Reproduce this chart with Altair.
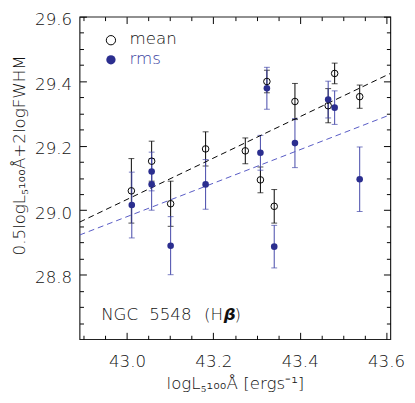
import altair as alt
import pandas as pd

# ---- data ----
mean_x = [43.010, 43.057, 43.101, 43.182, 43.274, 43.309, 43.324, 43.341, 43.389, 43.466, 43.481, 43.539]
mean_y = [29.060, 29.152, 29.020, 29.190, 29.184, 29.094, 29.399, 29.012, 29.337, 29.324, 29.424, 29.352]
mean_err = [0.100, 0.062, 0.070, 0.053, 0.040, 0.040, 0.035, 0.052, 0.056, 0.053, 0.032, 0.036]

rms_x = [43.011, 43.057, 43.057, 43.101, 43.182, 43.309, 43.324, 43.341, 43.389, 43.466, 43.481, 43.539]
rms_y = [29.016, 29.120, 29.080, 28.890, 29.080, 29.178, 29.378, 28.887, 29.208, 29.343, 29.318, 29.096]
rms_err = [0.102, 0.060, 0.080, 0.090, 0.077, 0.054, 0.065, 0.066, 0.076, 0.057, 0.052, 0.100]

fit_x = [42.89, 43.61]
mean_fit = [28.963, 29.424]
rms_fit = [28.923, 29.296]

x_major = [43.0, 43.2, 43.4, 43.6]
x_minor = [42.9, 42.95, 43.05, 43.1, 43.15, 43.25, 43.3, 43.35, 43.45, 43.5, 43.55]
y_major = [28.8, 29.0, 29.2, 29.4, 29.6]
y_minor = [28.65, 28.7, 28.75, 28.85, 28.9, 28.95, 29.05, 29.1, 29.15,
           29.25, 29.3, 29.35, 29.45, 29.5, 29.55]

FONT = "DejaVu Sans"
FW = 200
TXT = "#111111"
BLUE = "#2B2E8F"
BLUE_TXT = "#3A3E9E"
BLUE_BAR = "#4246A8"
BLUE_LINE = "#5558C4"
FS = 17

W, H = 317, 329

xscale = alt.Scale(domain=[42.89, 43.61], nice=False, zero=False)
yscale = alt.Scale(domain=[28.6, 29.6], nice=False, zero=False)


def ax(orient, values, size, labels=False, title=None, pad=0, tpad=0, extra=None):
    kw = dict(orient=orient, values=values, tickSize=size, offset=-size,
              domain=False, grid=False, labels=labels, ticks=True,
              tickColor="black", tickWidth=1)
    if labels:
        kw.update(labelFont=FONT, labelFontSize=FS, labelColor=TXT,
                  labelFontWeight=FW,
                  labelPadding=pad, format=".1f", labelFlush=False,
                  labelOverlap=False)
    if title:
        kw.update(title=title, titleFont=FONT, titleFontSize=FS,
                  titleFontWeight=FW, titleColor=TXT,
                  titlePadding=tpad)
    else:
        kw.update(title=None)
    if extra:
        kw.update(extra)
    return alt.Axis(**kw)


def make_df(xs, ys, es):
    return pd.DataFrame({"x": xs, "y": ys,
                         "lo": [a - b for a, b in zip(ys, es)],
                         "hi": [a + b for a, b in zip(ys, es)]})


mean_df = make_df(mean_x, mean_y, mean_err)
rms_df = make_df(rms_x, rms_y, rms_err)


def caps(df):
    return pd.concat([pd.DataFrame({"x": df["x"], "c": df["lo"]}),
                      pd.DataFrame({"x": df["x"], "c": df["hi"]})])


fit_df = pd.DataFrame({"x": fit_x, "m": mean_fit, "r": rms_fit})

x_axis_main = ax("bottom", x_major, 7, True, "logL₅₁₀₀Å [ergs⁻¹]", 15, 6)
y_axis_main = ax("left", y_major, 7, True, "0.5logL₅₁₀₀Å+2logFWHM", 8, 14,
                 extra=dict(labelOffset=3, titleX=-68, titleY=141,
                            titleAngle=270, titleAlign="center",
                            titleBaseline="middle"))

mean_bars = alt.Chart(mean_df).mark_rule(color="black", strokeWidth=1).encode(
    x=alt.X("x:Q", scale=xscale, axis=x_axis_main),
    y=alt.Y("lo:Q", scale=yscale, axis=y_axis_main),
    y2="hi:Q",
)
mean_caps = alt.Chart(caps(mean_df)).mark_tick(
    orient="horizontal", size=6, thickness=1, color="black").encode(
    x=alt.X("x:Q", scale=xscale, axis=ax("top", x_major, 7)),
    y=alt.Y("c:Q", scale=yscale, axis=ax("right", y_major, 7)),
)
rms_bars = alt.Chart(rms_df).mark_rule(color=BLUE_BAR, strokeWidth=1).encode(
    x=alt.X("x:Q", scale=xscale, axis=ax("bottom", x_minor, 4)),
    y=alt.Y("lo:Q", scale=yscale, axis=ax("left", y_minor, 4)),
    y2="hi:Q",
)
rms_caps = alt.Chart(caps(rms_df)).mark_tick(
    orient="horizontal", size=6, thickness=1, color=BLUE_BAR).encode(
    x=alt.X("x:Q", scale=xscale, axis=ax("top", x_minor, 4)),
    y=alt.Y("c:Q", scale=yscale, axis=ax("right", y_minor, 4)),
)

mean_pts = alt.Chart(mean_df).mark_point(
    shape="circle", filled=False, size=45, color="black", strokeWidth=1,
    opacity=1).encode(
    x=alt.X("x:Q", scale=xscale, axis=None),
    y=alt.Y("y:Q", scale=yscale, axis=None),
)
rms_pts = alt.Chart(rms_df).mark_circle(size=45, color=BLUE, opacity=1).encode(
    x=alt.X("x:Q", scale=xscale, axis=None),
    y=alt.Y("y:Q", scale=yscale, axis=None),
)

mean_line = alt.Chart(fit_df).mark_line(
    color="black", strokeDash=[6, 4], strokeWidth=1, clip=True).encode(
    x=alt.X("x:Q", scale=xscale, axis=None),
    y=alt.Y("m:Q", scale=yscale, axis=None),
)
rms_line = alt.Chart(fit_df).mark_line(
    color=BLUE_LINE, strokeDash=[6, 4], strokeWidth=1, clip=True).encode(
    x=alt.X("x:Q", scale=xscale, axis=None),
    y=alt.Y("r:Q", scale=yscale, axis=None),
)


def txt(s, x, y, color=TXT, **kw):
    return alt.Chart(pd.DataFrame({"t": [s]})).mark_text(
        align="left", baseline="middle", font=FONT, fontSize=FS,
        fontWeight=kw.pop("fontWeight", FW), color=color, **kw
    ).encode(x=alt.value(x), y=alt.value(y), text="t:N")


# legend (manual)
leg_mean_sym = alt.Chart(pd.DataFrame({"t": ["mean"]})).mark_point(
    shape="circle", filled=False, size=90, color="black", strokeWidth=1, opacity=1
).encode(x=alt.value(32), y=alt.value(24))
leg_rms_sym = alt.Chart(pd.DataFrame({"t": ["rms"]})).mark_circle(
    size=90, color=BLUE, opacity=1).encode(x=alt.value(32), y=alt.value(44))
leg_mean_txt = txt("mean", 51, 23)
leg_rms_txt = txt("rms", 51, 43, color=BLUE_TXT)

lbl_a = txt("NGC", 22, 304)
lbl_b = txt("5548", 71, 304)
lbl_c = txt("(H", 127, 304)
lbl_d = txt("β", 147, 304, fontStyle="italic", fontWeight="bold")
lbl_e = txt(")", 158, 304)

chart = alt.layer(
    mean_bars, mean_caps, rms_bars, rms_caps,
    mean_line, rms_line, mean_pts, rms_pts,
    leg_mean_sym, leg_rms_sym, leg_mean_txt, leg_rms_txt,
    lbl_a, lbl_b, lbl_c, lbl_d, lbl_e,
).resolve_axis(x="independent", y="independent").properties(
    width=W, height=H,
    autosize=alt.AutoSizeParams(type="none"),
    padding={"left": 73, "top": 5, "right": 17, "bottom": 50},
).configure_view(stroke="#222222", strokeWidth=1.2)

chart.save("out.html", embed_options={"renderer": "svg", "actions": False})
